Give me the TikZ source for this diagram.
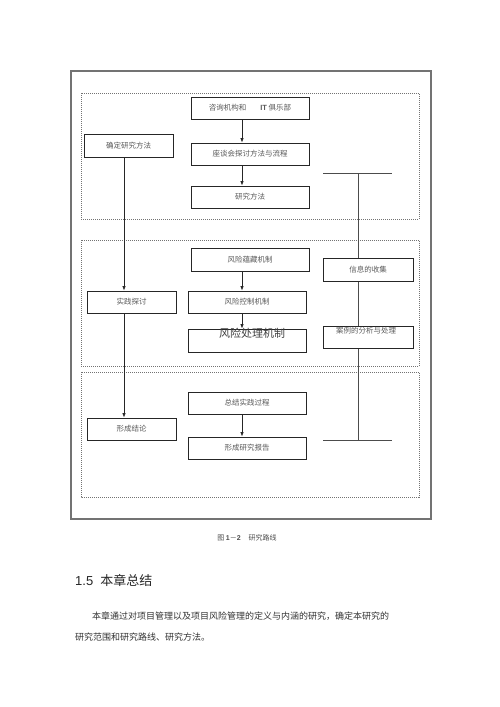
\documentclass[tikz,border=0pt]{standalone}
\usepackage{fontspec}
\setmainfont{Liberation Serif}
\newfontfamily\cjk{Noto Sans CJK SC}
\newfontfamily\lsans{Liberation Sans}
\usetikzlibrary{arrows.meta}
\begin{document}
\begin{tikzpicture}[x=1pt,y=-1pt,
  boxs/.style={draw=black!85,line width=0.8pt,fill=white,inner sep=0pt,
    font=\cjk\fontsize{7.5}{9}\selectfont,text=black!65},
  arr/.style={draw=black!85,line width=0.8pt,-{Latex[length=4.5pt,width=3.5pt]}},
  ln/.style={draw=black!70,line width=0.8pt},
  dbox/.style={draw=black!55,line width=0.6pt,dash pattern=on 1pt off 1pt},
  plain/.style={inner sep=0pt,text=black!70}]
\useasboundingbox[fill=white] (0,0) rectangle (500,707);
% outer frame
\draw[draw=black!55,line width=1.1pt] (71,71) rectangle (431,519);
% dashed groups
\draw[dbox] (81,93) rectangle (419,219);
\draw[dbox] (81,240) rectangle (419,366);
\draw[dbox] (81,372) rectangle (419,497);
% helper coordinates
\coordinate (lx) at (124,0);
\coordinate (ax) at (242,0);
\coordinate (rx) at (358,0);
\coordinate (tl) at (323,173);
\coordinate (tr) at (392,173);
\coordinate (bl) at (323,440);
\coordinate (br) at (392,440);
% right T-line (behind boxes)
\draw[ln] (tl) -- (tr);
\draw[ln] (bl) -- (br);
\draw[ln] (tl -| rx) -- (bl -| rx);
% nodes
\node[boxs,minimum width=118pt,minimum height=22pt] (q1) at (250,108) {咨询机构和\hspace{14pt}{\lsans\bfseries IT} 俱乐部};
\node[boxs,minimum width=118pt,minimum height=22pt] (q2) at (250,154) {座谈会探讨方法与流程};
\node[boxs,minimum width=118pt,minimum height=22pt] (q3) at (250,197) {研究方法};
\node[boxs,minimum width=89pt,minimum height=23pt] (d1) at (128.5,145.5) {确定研究方法};
\node[boxs,minimum width=89pt,minimum height=22pt] (s1) at (131.5,302) {实践探讨};
\node[boxs,minimum width=89pt,minimum height=22pt] (s2) at (131.5,429) {形成结论};
\node[boxs,minimum width=118pt,minimum height=23pt] (r1) at (250,259.5) {风险蕴藏机制};
\node[boxs,minimum width=118pt,minimum height=22pt] (r2) at (247,302) {风险控制机制};
\node[boxs,minimum width=118pt,minimum height=23pt] (r3) at (247,340.5) {};
\node[plain,font=\cjk\fontsize{11}{12}\selectfont,text=black!75] (r3t) at (252,333) {风险处理机制};
\node[boxs,minimum width=90pt,minimum height=23pt] (i1) at (368,269.5) {信息的收集};
\node[boxs,minimum width=90pt,minimum height=22pt] (i2) at (368,337) {};
\node[plain,font=\cjk\fontsize{7.5}{9}\selectfont,text=black!65] (i2t) at (366,330.5) {案例的分析与处理};
\node[boxs,minimum width=118pt,minimum height=22pt] (t1) at (247,403) {总结实践过程};
\node[boxs,minimum width=118pt,minimum height=22pt] (t2) at (247,448) {形成研究报告};
% arrows
\draw[arr] (q1.south -| ax) -- (q2.north -| ax);
\draw[arr] (q2.south -| ax) -- (q3.north -| ax);
\draw[arr] (r1.south -| ax) -- (r2.north -| ax);
\draw[arr] (r2.south -| ax) -- (r3.north -| ax);
\draw[arr] (t1.south -| ax) -- (t2.north -| ax);
\draw[arr] (d1.south -| lx) -- (s1.north -| lx);
\draw[arr] (s1.south -| lx) -- (s2.north -| lx);
% caption and text
\node[plain,font=\cjk\fontsize{7}{8}\selectfont,text=black!70] (cap) at (247,538) {图 {\lsans\bfseries 1}－{\lsans\bfseries 2}\hspace{8pt}研究路线};
\node[plain,anchor=west,text=black!85] (h) at (75,580) {{\lsans\fontsize{13}{14}\selectfont 1.5}\hspace{7pt}{\cjk\fontsize{13}{14}\selectfont 本章总结}};
\node[plain,anchor=west,font=\cjk\fontsize{9}{10}\selectfont,text=black!80] (p1) at (92,616) {本章通过对项目管理以及项目风险管理的定义与内涵的研究，确定本研究的};
\node[plain,anchor=west,font=\cjk\fontsize{9}{10}\selectfont,text=black!80] (p2) at (75,637) {研究范围和研究路线、研究方法。};
\end{tikzpicture}
\end{document}
